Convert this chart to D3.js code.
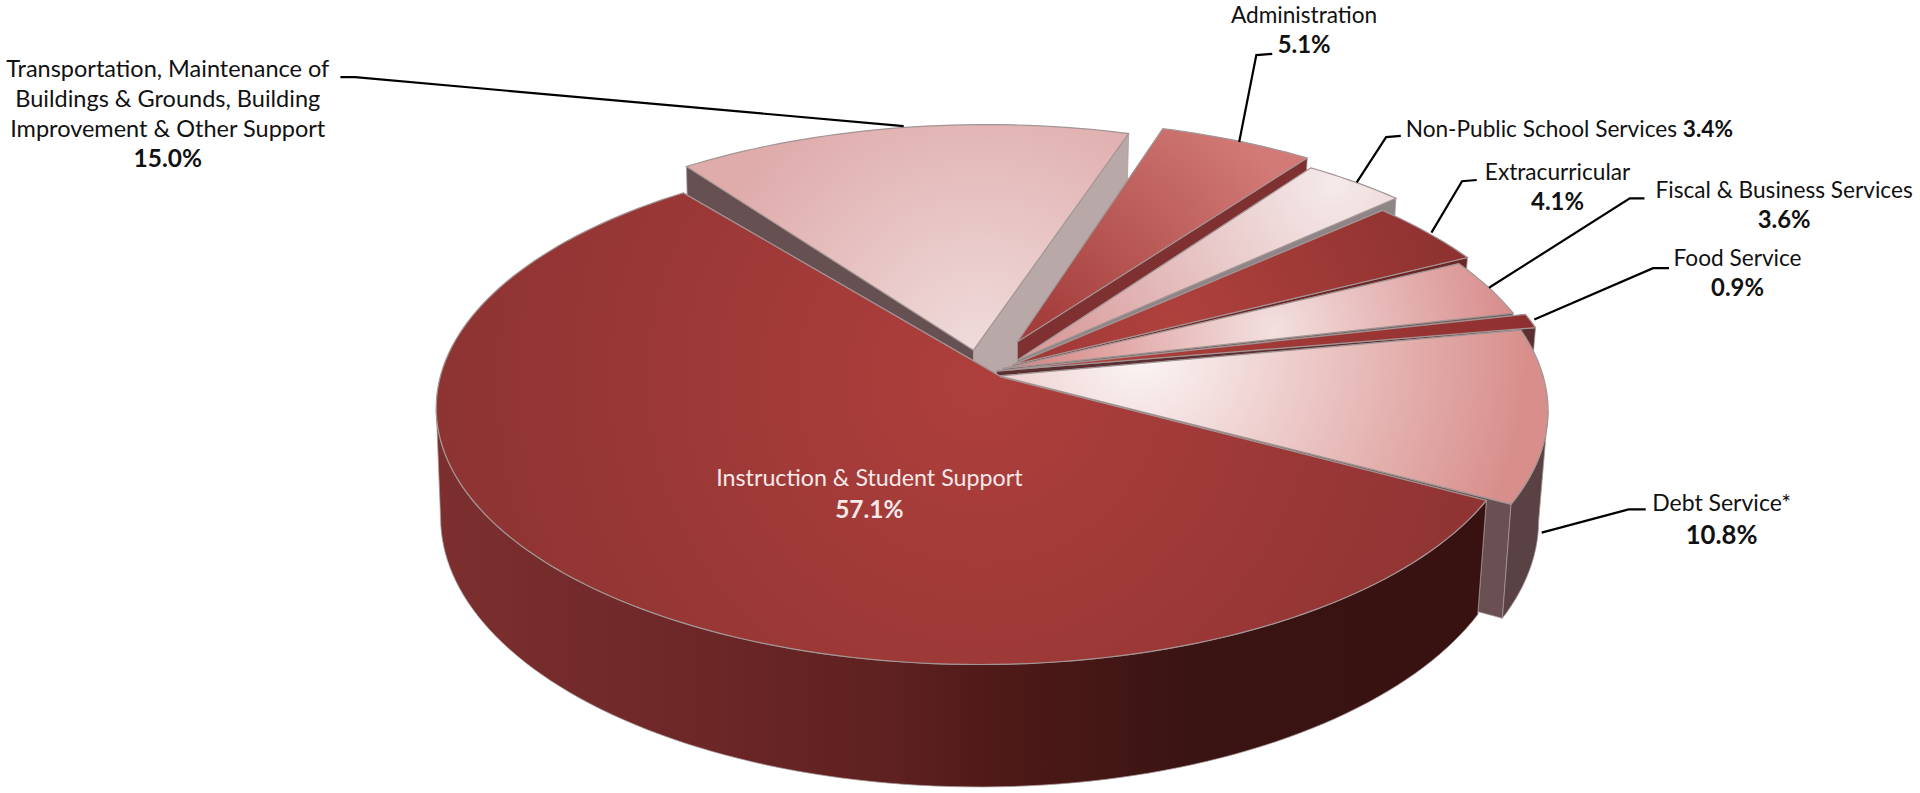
<!DOCTYPE html>
<html>
<head>
<meta charset="utf-8">
<script src="https://cdn.jsdelivr.net/npm/d3@7"></script>
<style>
  html, body { margin: 0; padding: 0; background: #fff; }
  svg { display: block; }
  text { font-family: Lato, "Open Sans", sans-serif; }
</style>
</head>
<body>
<div id="chart"></div>
<script>
// values, clockwise from the Administration slice
const categories = ["Administration", "Non-Public School Services", "Extracurricular",
    "Fiscal & Business Services", "Food Service", "Debt Service*",
    "Instruction & Student Support", "Transportation, Maintenance of Buildings & Grounds, Building Improvement & Other Support"];
const shares = [5.1, 3.4, 4.1, 3.6, 0.9, 10.8, 57.1, 15.0];

// label text, one list of lines per slice (the % is added from shares)
const labelLines = [
    ["Administration"],
    ["Non-Public School Services"],
    ["Extracurricular"],
    ["Fiscal & Business Services"],
    ["Food Service"],
    ["Debt Service*"],
    ["Instruction & Student Support"],
    ["Transportation, Maintenance of", "Buildings & Grounds, Building", "Improvement & Other Support"]
];

// layout, all in the 1568 wide viewBox
const W = 1568, H = 647.6;
const radiusX = 445, radiusY = 208.6, persp = 0.12, depth = 88;
const startDeg = 17;
// the rim turns away from the camera past these angles, so no outer wall there
const wallFrom = 97, wallTo = 263;
// lower ring is a touch narrower than the top one, more so on the right
const lowerShrinkRight = 0.983, lowerShrinkLeft = 0.992;

// where the rim of each slice is centred, and where its tip actually lands
const rimCenter = [[833, 284], [836, 292], [825, 302], [818, 307], [828, 308], [816, 310], [800, 308], [805, 288]];
const tipPoint = [[831, 279], [831, 294], [827, 298], [819, 301], [814, 303], [816, 307], [818, 308], [795, 286]];
const rimScale = [1, 1, 1, 1, 1, 1, 0.99, 1];

// top face gradients: centre x, centre y, radius, inner, outer
const faceFill = [
    [850, 270, 230, "#a33c3a", "#d27a76"],
    [1090, 150, 260, "#f5eaea", "#d99d9d"],
    [960, 270, 240, "#b0413d", "#8d3230"],
    [1040, 270, 200, "#f3e0e0", "#d78a88"],
    [900, 290, 350, "#ad3e3b", "#8f3030"],
    [930, 285, 320, "#fbf6f6", "#d88e8b"],
    [800, 310, 460, "#ae3f3c", "#8c3332"],
    [800, 290, 240, "#f0dcdc", "#dfabab"]
];
const wallStart = ["#7a2c2c", "#8f8586", "#7a2c2c", "#8f7475", "#6d2626", "#6a5052", "#5c2222", "#665052"];
const wallEnd = ["#7f3030", "#8f8586", "#6d2626", "#75605f", "#5c3033", "#6a5052", "#5c2222", "#b8a8a8"];
const wallOuter = ["#8f5050", "#8a7777", "#5f2222", "#7c5a5a", "#5a1f1f", "#5a4244", "url(#mainSide)", "#8a6f70"];
const mainSideStops = [[0, "#7d2f2f"], [0.25, "#6d2727"], [0.44, "#5e2020"], [0.53, "#4f1a18"], [0.72, "#3a1412"], [1, "#381210"]];

const labelAnchor = [[1065, 19], [1148, 112], [1272, 147], [1457, 162], [1419, 217], [1406, 417], [710, 397], [137, 63]];
const labelColor = ["#111", "#111", "#111", "#111", "#111", "#111", "#f7e9e9", "#111"];
const labelSize = [18.5, 18.5, 18.5, 18.5, 18.5, 18.8, 19, 19.2];
const pctSize = [19.5, 18.5, 19.5, 19.5, 19.5, 21, 20, 20];
const pctDrop = [0, 0, 0, 0, 0, 2.5, 1.5, 0];
const labelGap = 24.5;
const leaderPoints = [
    [[1039, 44], [1026, 45], [1012, 116]],
    [[1144, 111], [1132, 112], [1108, 149]],
    [[1206, 147], [1194, 148], [1169, 190]],
    [[1343, 162], [1331, 162], [1216, 235]],
    [[1363, 219], [1350, 219], [1253, 261]],
    [[1344, 416], [1330, 416], [1259, 435]],
    [],
    [[278, 63], [290, 63], [738, 103]]
];

const rad = d => d * Math.PI / 180;

// perspective projection of a rim point (angle clockwise from north)
function project(angle, center, z, scale) {
    const front = -Math.cos(angle);
    const w = 1 - persp * front;
    const side = Math.sin(angle);
    const lower = z > 0 ? (side > 0 ? lowerShrinkRight : lowerShrinkLeft) : 1;
    return [
        center[0] + scale * lower * radiusX * side / w,
        center[1] + (scale * radiusY * front + z) / w
    ];
}

function rimPoints(a0, a1, center, z, scale) {
    const n = Math.max(4, Math.ceil((a1 - a0) / rad(1.5)));
    return d3.range(n + 1).map(i => project(a0 + (a1 - a0) * i / n, center, z, scale));
}

const svg = d3.select("#chart").append("svg")
    .attr("width", 1920)
    .attr("height", 793)
    .attr("viewBox", `0 0 ${W} ${H}`);

const defs = svg.append("defs");
const line = d3.line();

const mainSide = defs.append("linearGradient").attr("id", "mainSide")
    .attr("gradientUnits", "userSpaceOnUse")
    .attr("x1", 355).attr("x2", 1215).attr("y1", 0).attr("y2", 0);
mainSideStops.forEach(s =>
    mainSide.append("stop").attr("offset", s[0]).attr("stop-color", s[1]));

faceFill.forEach((f, i) => {
    const g = defs.append("radialGradient").attr("id", "face" + i)
        .attr("gradientUnits", "userSpaceOnUse")
        .attr("cx", f[0]).attr("cy", f[1]).attr("r", f[2]);
    g.append("stop").attr("offset", 0).attr("stop-color", f[3]);
    g.append("stop").attr("offset", 1).attr("stop-color", f[4]);
});

const pie = d3.pie().sort(null).value(d => d)
    .startAngle(rad(startDeg)).endAngle(rad(startDeg + 360));
const arcs = pie(shares);

// painter's order: the back slice first, clockwise round, the big slice on top
const order = [7, 0, 1, 2, 3, 4, 5, 6];

const slices = svg.append("g").attr("class", "slices");
order.forEach(i => {
    const a = arcs[i];
    const c = rimCenter[i];
    const s = rimScale[i];
    const tip = tipPoint[i];
    const tipLow = [tip[0], tip[1] + depth];
    const g = slices.append("g").attr("class", "slice");

    // the two cut walls
    [[a.startAngle, wallStart[i]], [a.endAngle, wallEnd[i]]].forEach(w => {
        const p0 = project(w[0], c, 0, s), p1 = project(w[0], c, depth, s);
        g.append("path")
            .attr("d", line([tip, p0, p1, tipLow]) + "Z")
            .attr("fill", w[1])
            .attr("stroke", "#a89a9a").attr("stroke-width", 0.6);
    });

    // outer wall, only the part that faces the camera
    const w0 = Math.max(a.startAngle, rad(wallFrom));
    const w1 = Math.min(a.endAngle, rad(wallTo));
    if (w1 > w0) {
        const rimTop = rimPoints(w0, w1, c, 0, s);
        const rimLow = rimPoints(w0, w1, c, depth, s);
        g.append("path")
            .attr("d", line(rimTop.concat(rimLow.reverse())) + "Z")
            .attr("fill", wallOuter[i])
            .attr("stroke", "#a89a9a").attr("stroke-width", 0.6);
    }

    // top face
    const top = rimPoints(a.startAngle, a.endAngle, c, 0, s);
    g.append("path")
        .attr("d", line([tip].concat(top)) + "Z")
        .attr("fill", `url(#face${i})`)
        .attr("stroke", "#a39595").attr("stroke-width", 1);
});

// leader lines
svg.append("g").selectAll("path")
    .data(leaderPoints.filter(p => p.length))
    .join("path")
    .attr("d", d => line(d))
    .attr("fill", "none")
    .attr("stroke", "#000")
    .attr("stroke-width", 1.8);

// labels
const labels = svg.append("g");
categories.forEach((name, i) => {
    const pct = shares[i].toFixed(1) + "%";
    const [x, y] = labelAnchor[i];
    if (i === 1) {
        // this one sits on a single line
        const t = labels.append("text").attr("x", x).attr("y", y)
            .attr("font-size", labelSize[i]).attr("fill", labelColor[i]);
        t.append("tspan").text(labelLines[i][0] + " ");
        t.append("tspan").attr("font-weight", 700).text(pct);
        return;
    }
    labelLines[i].forEach((l, j) => {
        labels.append("text")
            .attr("x", x).attr("y", y + j * labelGap)
            .attr("text-anchor", "middle")
            .attr("font-size", labelSize[i])
            .attr("fill", labelColor[i])
            .text(l);
    });
    labels.append("text")
        .attr("x", x).attr("y", y + labelLines[i].length * labelGap + pctDrop[i])
        .attr("text-anchor", "middle")
        .attr("font-size", pctSize[i])
        .attr("font-weight", 700)
        .attr("fill", labelColor[i])
        .text(pct);
});
</script>
</body>
</html>
